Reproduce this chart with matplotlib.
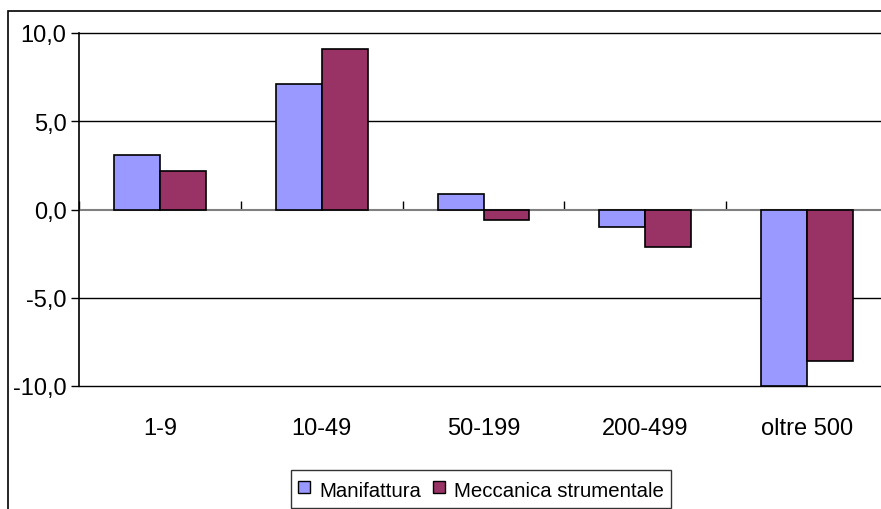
import matplotlib
matplotlib.use("Agg")
from matplotlib import pyplot as plt
from matplotlib.patches import Rectangle
from matplotlib.lines import Line2D
from matplotlib.ticker import FuncFormatter
import numpy as np

plt.rcParams["font.family"] = ["Liberation Sans", "DejaVu Sans"]

categories = ["1-9", "10-49", "50-199", "200-499", "oltre 500"]
manifattura = [3.1, 7.1, 0.9, -1.0, -10.0]
meccanica = [2.2, 9.1, -0.6, -2.1, -8.6]
series_names = ["Manifattura", "Meccanica strumentale"]
colors = ["#9999FF", "#993366"]

W, H = 881, 510
fig = plt.figure(figsize=(W / 100, H / 100), dpi=100)

# outer chart frame (runs off the right and bottom of the image)
fig.patches.append(Rectangle((8 / W, -0.1), 1.2, 1 - 12 / H + 0.1, transform=fig.transFigure,
                             fill=False, edgecolor="black", linewidth=1.2, clip_on=False))

left, right, top, bottom = 79, 888, 34, 387
ax = fig.add_axes([left / W, 1 - bottom / H, (right - left) / W, (bottom - top) / H])

x = np.arange(len(categories))
bw = 0.284
ax.bar(x - bw / 2, manifattura, bw, color=colors[0], edgecolor="black", linewidth=1.2, zorder=3)
ax.bar(x + bw / 2, meccanica, bw, color=colors[1], edgecolor="black", linewidth=1.2, zorder=3)

ax.set_xlim(-0.5, len(categories) - 0.5)
ax.set_ylim(-10, 10)
ax.set_yticks([-10, -5, 0, 5, 10])
ax.yaxis.set_major_formatter(FuncFormatter(lambda v, p: f"{v:.1f}".replace(".", ",")))
ax.tick_params(axis="y", length=6, width=1, labelsize=17, pad=3)
for v in [-10, -5, 5, 10]:
    ax.axhline(v, color="black", linewidth=1, zorder=1, clip_on=False)
ax.axhline(0, color="#808080", linewidth=1.5, zorder=2)

ax.set_xticks(x)
ax.set_xticklabels(categories)
ax.tick_params(axis="x", length=0, labelsize=17, pad=22)

for s in ["top", "right", "bottom"]:
    ax.spines[s].set_visible(False)
ax.spines["left"].set_linewidth(1.2)

# category boundary ticks on the zero line
sec = ax.secondary_xaxis(0.5)
sec.set_xticks(np.arange(len(categories) + 1) - 0.5)
sec.tick_params(axis="x", direction="out", length=6, width=1, labelbottom=False, labeltop=False)
sec.spines["bottom"].set_visible(False)
sec.spines["top"].set_visible(False)

handles = [Line2D([], [], linestyle="none", marker="s", markersize=8, markerfacecolor=c,
                  markeredgecolor="black", markeredgewidth=1) for c in colors]
leg = fig.legend(handles, series_names, loc="lower center", bbox_to_anchor=(481 / W, 1 / H),
                 ncol=2, fontsize=14.7, frameon=True, fancybox=False, handlelength=0.55,
                 handleheight=1.4, handletextpad=0.45, columnspacing=0.6, borderpad=0.35,
                 borderaxespad=0)
leg.get_frame().set_edgecolor("black")
leg.get_frame().set_linewidth(1)

fig.savefig("out.png", dpi=100)
